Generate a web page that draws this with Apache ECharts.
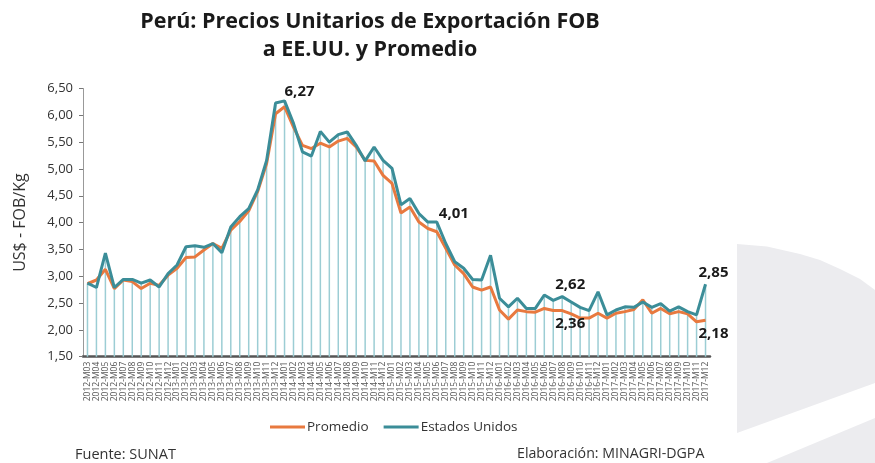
<!DOCTYPE html>
<html>
<head>
<meta charset="utf-8">
<script src="https://cdn.jsdelivr.net/npm/echarts@6/dist/echarts.min.js"></script>
<style>
html,body{margin:0;padding:0;background:#fff;}
#chart{width:875px;height:463px;}
</style>
</head>
<body>
<div id="chart"></div>
<script>
// Categories: 2012-M03 .. 2017-M12
const categories = [];
(function(){
  for (let y = 2012; y <= 2017; y++) {
    for (let m = (y === 2012 ? 3 : 1); m <= 12; m++) {
      categories.push(y + '-M' + (m < 10 ? '0' + m : m));
    }
  }
})();

const estadosUnidos = [
  2.87, 2.79, 3.43, 2.79, 2.94, 2.94, 2.87, 2.93, 2.80, 3.05,
  3.21, 3.55, 3.57, 3.54, 3.61, 3.44, 3.92, 4.11, 4.26, 4.61,
  5.16, 6.23, 6.27, 5.85, 5.32, 5.24, 5.70, 5.50, 5.64, 5.69,
  5.44, 5.15, 5.41, 5.16, 5.01, 4.33, 4.45, 4.17, 4.01, 4.01,
  3.61, 3.27, 3.15, 2.94, 2.93, 3.39, 2.59, 2.43, 2.59, 2.40,
  2.40, 2.65, 2.55, 2.62, 2.52, 2.42, 2.36, 2.71, 2.28, 2.37,
  2.43, 2.42, 2.52, 2.42, 2.49, 2.35, 2.43, 2.34, 2.28, 2.85
];

const promedio = [
  2.86, 2.93, 3.13, 2.77, 2.93, 2.90, 2.77, 2.87, 2.83, 3.02,
  3.15, 3.35, 3.36, 3.49, 3.61, 3.52, 3.86, 4.02, 4.22, 4.58,
  5.10, 6.03, 6.16, 5.78, 5.44, 5.38, 5.48, 5.41, 5.52, 5.57,
  5.41, 5.16, 5.15, 4.88, 4.73, 4.18, 4.29, 4.01, 3.89, 3.83,
  3.52, 3.21, 3.05, 2.80, 2.74, 2.80, 2.37, 2.20, 2.37, 2.34,
  2.33, 2.40, 2.36, 2.36, 2.30, 2.22, 2.22, 2.31, 2.22, 2.31,
  2.34, 2.38, 2.56, 2.31, 2.40, 2.30, 2.34, 2.30, 2.15, 2.18
];

const yTicks = [1.5, 6.5, 0.5]; // min, max, interval

// annotated points (index -> label placement)
const euLabels = {22: 'pk', 39: 'mid', 53: 'top', 69: 'top'};
const promLabels = {53: 'bot', 69: 'bot'};

const fmt = v => Number(v).toFixed(2).replace('.', ',');
const labStyle = {show: true, fontFamily: 'Open Sans', fontWeight: 'bold', fontSize: 15, color: '#1a1a1a', formatter: p => fmt(p.value)};

function labelFor(kind) {
  if (kind === 'pk') return Object.assign({}, labStyle, {position: 'right', distance: 0, offset: [0, -9]});
  if (kind === 'mid') return Object.assign({}, labStyle, {position: 'right', distance: 2, offset: [0, -8]});
  if (kind === 'top') return Object.assign({}, labStyle, {position: 'top', distance: 4, offset: [8, 0]});
  return Object.assign({}, labStyle, {position: 'bottom', distance: 6, offset: [8, 0]});
}

const euData = estadosUnidos.map((v, i) => euLabels[i] ? {value: v, label: labelFor(euLabels[i])} : v);
const promData = promedio.map((v, i) => promLabels[i] ? {value: v, label: labelFor(promLabels[i])} : v);

const chart = echarts.init(document.getElementById('chart'));
chart.setOption({
  animation: false,
  backgroundColor: '#ffffff',
  textStyle: {fontFamily: 'Open Sans'},
  title: {
    text: 'Perú: Precios Unitarios de Exportación FOB\na EE.UU. y Promedio',
    left: 370,
    textAlign: 'center',
    top: 8,
    padding: 0,
    textStyle: {fontFamily: 'Open Sans', fontWeight: 'bold', fontSize: 21.5, lineHeight: 28, color: '#1a1a1a'}
  },
  graphic: [
    {type: 'polygon', z: -10, silent: true,
      shape: {points: [[737,244],[767,246.5],[800,254],[820,260],[840,269],[860,279],[875,290],[875,383],[737,433]]},
      style: {fill: '#ececef'}},
    {type: 'polygon', z: -10, silent: true,
      shape: {points: [[767,463],[875,418],[875,463]]},
      style: {fill: '#ececef'}},
    {type: 'text', left: 75, top: 447, style: {text: 'Fuente: SUNAT', font: '14.5px "Open Sans"', fill: '#333'}},
    {type: 'text', left: 517, top: 447, style: {text: 'Elaboración: MINAGRI-DGPA', font: '14.2px "Open Sans"', fill: '#333'}}
  ],
  legend: {
    data: ['Promedio', 'Estados Unidos'],
    left: 270,
    top: 420,
    padding: 0,
    icon: 'rect',
    itemWidth: 35,
    itemHeight: 3,
    itemGap: 15,
    textStyle: {fontFamily: 'Open Sans', fontSize: 13.5, color: '#333', padding: [0, 0, 0, -3]}
  },
  grid: {left: 83, right: 165, top: 88.5, bottom: 106.3, containLabel: false},
  xAxis: {
    type: 'category',
    data: categories,
    boundaryGap: true,
    axisLine: {lineStyle: {color: '#555', width: 2.5}},
    axisTick: {show: false},
    axisLabel: {interval: 0, rotate: 90, fontSize: 8.5, color: '#555', margin: 5, fontFamily: 'Open Sans'}
  },
  yAxis: {
    type: 'value',
    min: yTicks[0], max: yTicks[1], interval: yTicks[2],
    name: 'US$ - FOB/Kg',
    nameLocation: 'middle',
    nameGap: 55,
    nameTextStyle: {fontFamily: 'Open Sans', fontSize: 16, color: '#333'},
    axisLine: {show: true, lineStyle: {color: '#999', width: 1}},
    axisTick: {show: true, length: 4, lineStyle: {color: '#777'}},
    splitLine: {show: false},
    axisLabel: {formatter: v => fmt(v), fontSize: 13, color: '#333', margin: 10, fontFamily: 'Open Sans'}
  },
  series: [
    {type: 'bar', name: 'drop', data: estadosUnidos, barWidth: 1.5, itemStyle: {color: '#9ccdd4'}, silent: true, z: 1},
    {type: 'line', name: 'Promedio', data: promData, symbol: 'circle', symbolSize: 0, lineStyle: {color: '#e8793f', width: 3}, itemStyle: {color: '#e8793f'}, z: 3},
    {type: 'line', name: 'Estados Unidos', data: euData, symbol: 'circle', symbolSize: 0, lineStyle: {color: '#3b8d98', width: 3}, itemStyle: {color: '#3b8d98'}, z: 4}
  ]
});
</script>
</body>
</html>
